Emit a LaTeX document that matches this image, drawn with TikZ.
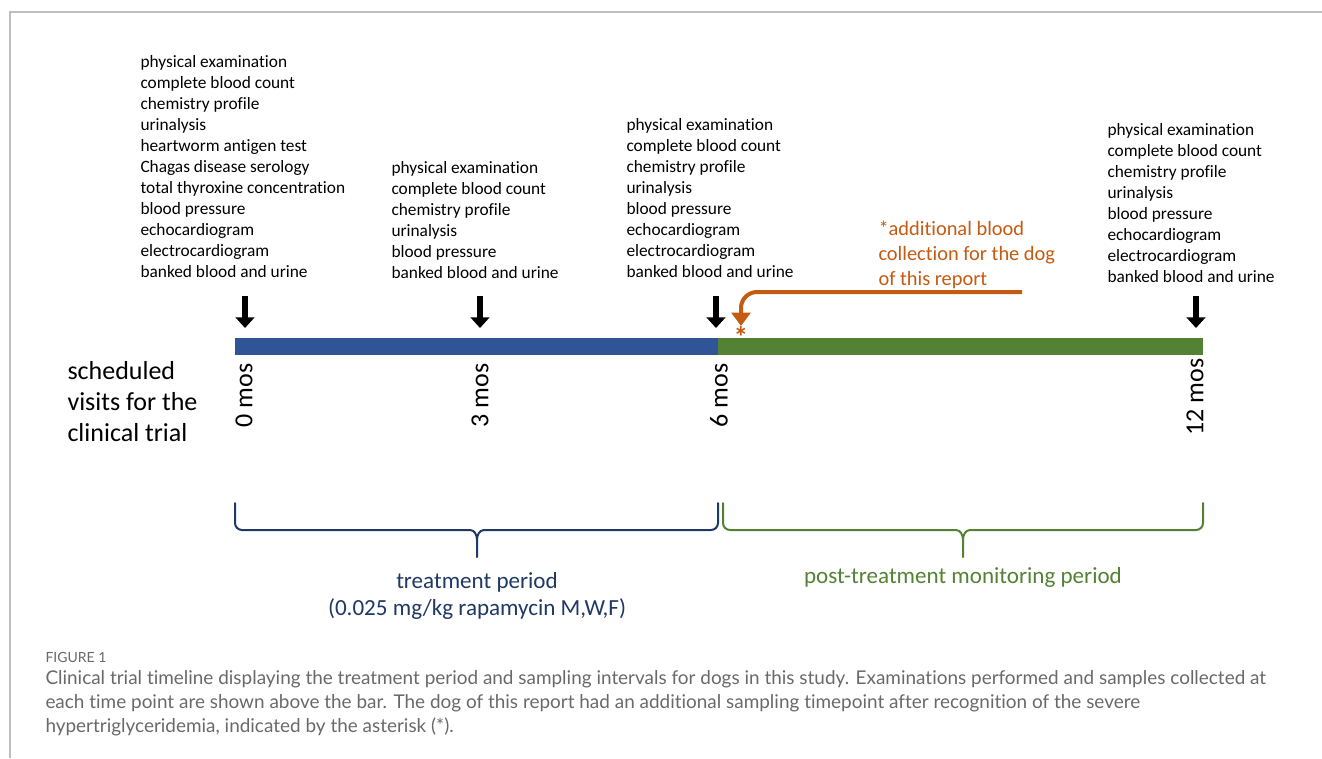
\documentclass[tikz,border=0pt]{standalone}
\usepackage{fontspec}
\setmainfont{Carlito}[Ligatures=NoCommon]
\newfontfamily\captionfont{Lato}[Ligatures=NoCommon]
\usetikzlibrary{arrows.meta}

\definecolor{treatblue}{RGB}{47,85,151}
\definecolor{bracenavy}{RGB}{31,56,100}
\definecolor{postgreen}{RGB}{84,130,53}
\definecolor{extraorange}{RGB}{197,90,17}
\definecolor{framegray}{RGB}{190,190,190}
\definecolor{captiongray}{RGB}{105,105,105}

\tikzset{every picture/.style={line width=0.75pt}}
\tikzset{
    checklist/.style={anchor=north west, inner sep=0pt, align=left, font=\fontsize{13}{15.75}\selectfont},
    monthlabel/.style={rotate=90, anchor=east, inner sep=0pt, font=\fontsize{19.5}{23}\selectfont},
    visitarrow/.style={line width=4.5pt, -{Triangle[width=14pt,length=8pt]}},
    periodbrace/.style={line width=1.5pt, line cap=round, line join=round},
}

\begin{document}
\begin{tikzpicture}[x=0.75pt, y=-0.75pt]
    \useasboundingbox (0,0) rectangle (1322,758);
    \draw[framegray, line width=1.5pt] (10,758) -- (10,12) -- (1322,12);

    % timeline bar
    \fill[treatblue] (235,338) rectangle (718,355);
    \fill[postgreen] (718,338) rectangle (1203,355);
    \foreach \x in {245,480,716,1196} {
        \draw[visitarrow] (\x,296) -- (\x,328);
    }

    \node[monthlabel] (m0) at (244,363) {0 mos};
    \node[monthlabel] (m3) at (480,363) {3 mos};
    \node[monthlabel] (m6) at (719,363) {6 mos};
    \node[monthlabel] (m12) at (1195,358) {12 mos};

    \node[anchor=north west, inner sep=0pt, align=left, font=\fontsize{19.5}{23.25}\selectfont] (visits) at (67,361)
        {scheduled\\visits for the\\clinical trial};

    % exams at each visit
    \node[checklist] (list0) at (140,55) {physical examination\\complete blood count\\chemistry profile\\urinalysis\\heartworm antigen test\\Chagas disease serology\\total thyroxine concentration\\blood pressure\\echocardiogram\\electrocardiogram\\banked blood and urine};
    \node[checklist] (list3) at (391,161) {physical examination\\complete blood count\\chemistry profile\\urinalysis\\blood pressure\\banked blood and urine};
    \node[checklist] (list6) at (626,118) {physical examination\\complete blood count\\chemistry profile\\urinalysis\\blood pressure\\echocardiogram\\electrocardiogram\\banked blood and urine};
    \node[checklist] (list12) at (1107,123) {physical examination\\complete blood count\\chemistry profile\\urinalysis\\blood pressure\\echocardiogram\\electrocardiogram\\banked blood and urine};

    % extra sample
    \node[anchor=north west, inner sep=0pt, align=left, text=extraorange, font=\fontsize{15.3}{18.4}\selectfont] (extra) at (878,221)
        {*additional blood\\collection for the dog\\of this report};
    \coordinate (extrastart) at (1022,292);
    \node[anchor=north, inner sep=0pt, text=extraorange, font=\fontsize{22}{24}\selectfont\bfseries] (ast) at (741,326) {*};
    \draw[extraorange, line width=3pt, rounded corners=12pt, -{Triangle[width=14pt,length=10pt]}] (extrastart) -| (ast.north);

    % periods
    \draw[periodbrace, bracenavy] (235,503) -- (235,523) to[out=-90,in=180] (242,530) -- (470,530) to[out=0,in=90] (477,540) -- (477,557);
    \draw[periodbrace, bracenavy] (718,503) -- (718,523) to[out=-90,in=0] (711,530) -- (484,530) to[out=180,in=90] (477,540);
    \draw[periodbrace, postgreen] (723,503) -- (723,523) to[out=-90,in=180] (730,530) -- (956,530) to[out=0,in=90] (963,540) -- (963,557);
    \draw[periodbrace, postgreen] (1203,503) -- (1203,523) to[out=-90,in=0] (1196,530) -- (970,530) to[out=180,in=90] (963,540);
    \node[align=center, text=bracenavy, font=\fontsize{17.3}{20.25}\selectfont] (treat) at (477,596)
        {treatment period\\(0.025 mg/kg rapamycin M,W,F)};
    \node[text=postgreen, font=\fontsize{17.3}{20.25}\selectfont] (post) at (963,577) {post-treatment monitoring period};

    % caption
    \node[anchor=west, inner sep=0pt, text=captiongray, font=\captionfont\fontsize{10.5}{12}\selectfont] (figlabel) at (45,657) {FIGURE 1};
    \node[anchor=north west, inner sep=0pt, align=left, text=captiongray, font=\captionfont\fontsize{14.2}{18}\selectfont] (caption) at (45,670)
        {Clinical trial timeline displaying the treatment period and sampling intervals for dogs in this study. Examinations performed and samples collected at\\each time point are shown above the bar. The dog of this report had an additional sampling timepoint after recognition of the severe\\hypertriglyceridemia, indicated by the asterisk (*).};
\end{tikzpicture}
\end{document}
